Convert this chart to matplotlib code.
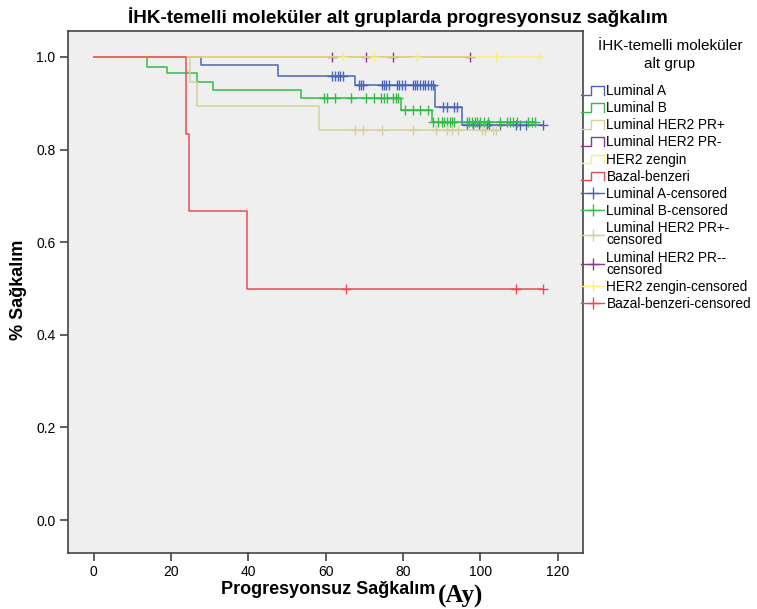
import matplotlib
matplotlib.use("Agg")
import matplotlib.pyplot as plt
import numpy as np
from matplotlib.lines import Line2D
from matplotlib.legend_handler import HandlerBase

plt.rcParams["font.family"] = ["Liberation Sans", "DejaVu Sans"]

# step curves: event times (months) and survival after each step
lumA_t = [0, 27.9, 47.8, 67.6, 88.4, 95.4]
lumA_s = [1.0, 0.983, 0.960, 0.939, 0.893, 0.853]
lumA_cens = [61.7, 62.4, 63.1, 63.8, 64.5, 68.6, 69.2, 69.8, 74.5, 75.0, 75.6, 76.3,
             78.5, 79.1, 79.8, 80.5, 82.7, 83.2, 83.7, 84.4, 85.1, 85.8, 86.5, 87.2,
             87.7, 90.4, 91.3, 93.3, 94.1, 96.5, 98.0, 99.6, 101.7, 102.3, 105.1,
             109.2, 110.3, 111.8, 116.3]

lumB_t = [0, 13.9, 18.9, 26.8, 30.8, 53.6, 79.5, 87.4]
lumB_s = [1.0, 0.978, 0.965, 0.947, 0.929, 0.911, 0.886, 0.859]
lumB_cens = [59.6, 60.3, 62.4, 66.6, 70.5, 72.5, 74.3, 75.2, 75.8, 77.5, 78.2, 78.7,
             80.6, 82.5, 84.5, 86.4, 87.8, 89.1, 90.0, 90.7, 91.4, 92.1, 92.7, 93.3,
             96.5, 97.2, 97.9, 98.6, 99.2, 99.9, 101.0, 102.0, 105.1, 106.8, 107.7,
             108.5, 109.4, 112.4, 113.3, 114.1]

tan_t = [0, 24.9, 26.8, 58.4]
tan_s = [1.0, 0.947, 0.895, 0.842]
tan_cens = [67.6, 69.6, 74.5, 82.5, 88.5, 91.3, 92.6, 94.3, 100.4, 101.2, 103.4, 104.2]

pur_t = [0]
pur_s = [1.0]
pur_cens = [61.6, 70.5, 77.5, 97.3]

her2_t = [0]
her2_s = [1.0]
her2_cens = [64.6, 72.5, 83.6, 104.2, 115.3]

red_t = [0, 23.9, 24.8, 39.8]
red_s = [1.0, 0.833, 0.667, 0.5]
red_cens = [65.3, 109.2, 116.3]

groups = ["Luminal A", "Luminal B", "Luminal HER2 PR+", "Luminal HER2 PR-",
          "HER2 zengin", "Bazal-benzeri"]
cens_labels = ["Luminal A-censored", "Luminal B-censored", "Luminal HER2 PR+-\ncensored",
               "Luminal HER2 PR--\ncensored", "HER2 zengin-censored",
               "Bazal-benzeri-censored"]
colors = ["#4a66bb", "#35bb48", "#d6d19c", "#8a3a93", "#f6f178", "#ee4b50"]

curves = [(lumA_t, lumA_s, lumA_cens), (lumB_t, lumB_s, lumB_cens),
          (tan_t, tan_s, tan_cens), (pur_t, pur_s, pur_cens),
          (her2_t, her2_s, her2_cens), (red_t, red_s, red_cens)]


class StepHandler(HandlerBase):
    def create_artists(self, legend, orig_handle, xdescent, ydescent, width, height, fontsize, trans):
        x0 = -xdescent
        y0 = -ydescent + 0.05 * height
        y1 = -ydescent + 0.95 * height
        xs = [x0, x0 + 0.45 * width, x0 + 0.45 * width, x0 + width, x0 + width]
        ys = [y0, y0, y1, y1, y0]
        ln = Line2D(xs, ys, color=orig_handle.get_color(), lw=1.0)
        ln.set_transform(trans)
        return [ln]


fig = plt.figure(figsize=(7.57, 6.09), dpi=100)
ax = fig.add_axes([0.0898, 0.092, 0.680, 0.857])
ax.set_facecolor("#efefef")

for (t, s, c), col in zip(curves, colors):
    end = max(c + [t[-1]])
    ax.step(t + [end], s + [s[-1]], where="post", color=col, lw=1.1)
    idx = np.searchsorted(t, c, side="right") - 1
    cy = np.array(s)[idx]
    ax.plot(c, cy, linestyle="none", marker="+", color=col, markersize=7, mew=1.0)

ax.set_xlim(-6.6, 126.5)
ax.set_ylim(-0.071, 1.056)
ax.set_xticks([0, 20, 40, 60, 80, 100, 120])
ax.set_yticks([0.0, 0.2, 0.4, 0.6, 0.8, 1.0])
ax.set_yticklabels(["0.0", "0.2", "0.4", "0.6", "0.8", "1.0"])
ax.tick_params(labelsize=10, length=6, width=1.2, color="#444444", pad=3)
for sp in ax.spines.values():
    sp.set_color("#444444")
    sp.set_linewidth(1.2)

fig.text(0.525, 0.972, "İHK-temelli moleküler alt gruplarda progresyonsuz sağkalım",
         ha="center", va="center", fontsize=13.6, fontweight="bold")
fig.text(0.025, 0.524, "% Sağkalım", rotation=90, ha="center", va="center",
         fontsize=13, fontweight="bold")
fig.text(0.575, 0.032, "Progresyonsuz Sağkalım", ha="right", va="center",
         fontsize=13, fontweight="bold")
fig.text(0.578, 0.020, "(Ay)", ha="left", va="center", fontsize=18,
         fontweight="bold", family="Liberation Serif")

# legend title as separate text so its spacing can follow the original
fig.text(0.885, 0.909, "İHK-temelli moleküler\nalt grup", ha="center", va="center",
         fontsize=11, linespacing=1.35, multialignment="center")

handles = [Line2D([], [], color=col) for col in colors]
handles += [Line2D([], [], color=col, marker="+", markersize=8, mew=1.0, lw=1.0)
            for col in colors]
hmap = {h: StepHandler() for h in handles[:6]}
leg = fig.legend(handles, groups + cens_labels, loc="upper left",
                 bbox_to_anchor=(0.767, 0.862), frameon=False, fontsize=9.8,
                 handlelength=1.75, handletextpad=0.15, labelspacing=0.23,
                 borderpad=0, borderaxespad=0, handler_map=hmap)
for txt in leg.get_texts():
    txt.set_linespacing(0.85)

fig.savefig("out.png", dpi=100)
